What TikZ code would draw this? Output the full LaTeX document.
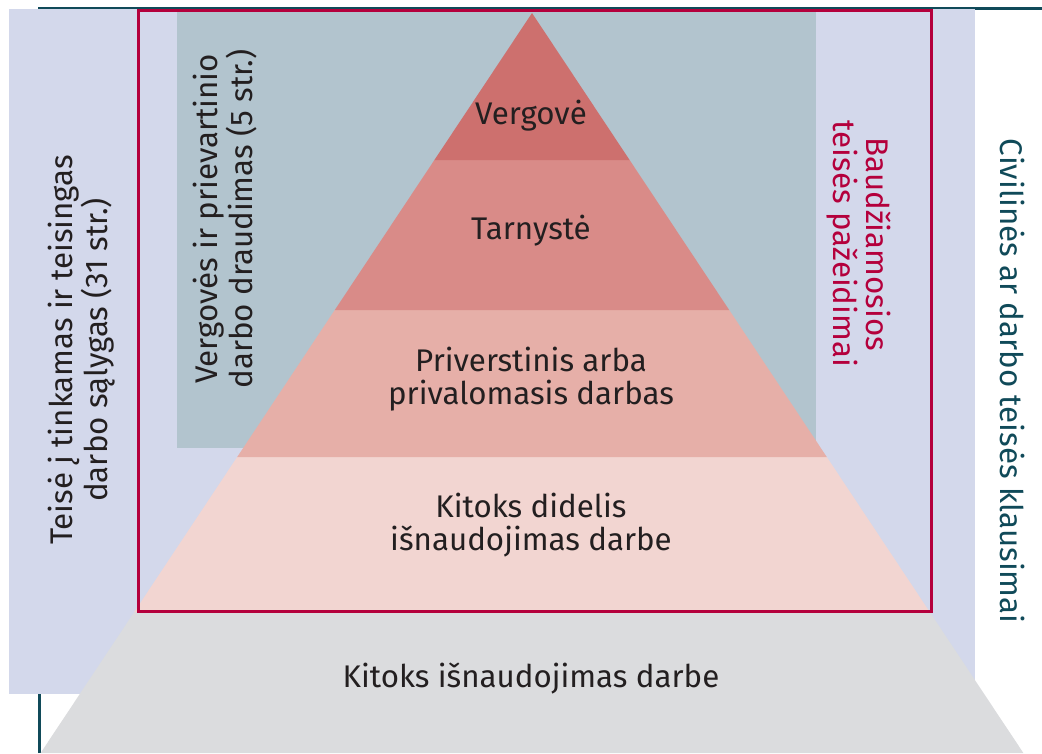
\documentclass[tikz,border=0pt]{standalone}
\usepackage{fontspec}
\setmainfont{Fira Sans}
\definecolor{lav}{HTML}{D3D8EB}
\definecolor{slate}{HTML}{B2C4CE}
\definecolor{tealc}{HTML}{104A59}
\definecolor{crim}{HTML}{B4003C}
\definecolor{lvA}{HTML}{CD706E}
\definecolor{lvB}{HTML}{D98B88}
\definecolor{lvC}{HTML}{E6AFA8}
\definecolor{lvD}{HTML}{F2D5D1}
\definecolor{greyb}{HTML}{DBDCDE}
\definecolor{ink}{HTML}{231F20}
\tikzset{
  txt/.style={font=\fontsize{31.3}{33}\selectfont, text=ink, align=center, inner sep=0pt, anchor=base},
}
\begin{document}
\begin{tikzpicture}[x=1pt,y=-1pt]
\useasboundingbox (0,0) rectangle (1042,753);
% page frame lines
\draw[tealc, line width=3pt] (39,753) -- (39,8) -- (1042,8);
% lavender background
\fill[lav] (9,9) rectangle (975,694);
% slate box
\fill[slate] (177,12) rectangle (816,448);
% grey base trapezoid
\fill[greyb] (134.3,612) -- (929.7,612) -- (1023.4,753) -- (40.6,753) -- cycle;
% pyramid levels
\fill[lvD] (237.2,457) -- (826.8,457) -- (929.7,612) -- (134.3,612) -- cycle;
\fill[lvC] (334.8,310) -- (729.2,310) -- (826.8,457) -- (237.2,457) -- cycle;
\fill[lvB] (434.4,160) -- (629.6,160) -- (729.2,310) -- (334.8,310) -- cycle;
\fill[lvA] (532,13) -- (629.6,160) -- (434.4,160) -- cycle;
% red frame
\draw[crim, line width=3pt] (138.5,10.5) rectangle (931.5,611.5);
% texts (anchor base = baseline of the last line)
\node[txt] (vergove) at (531,124) {Vergovė};
\node[txt] (tarnyste) at (531,239) {Tarnystė};
\node[txt] (priv) at (531,404) {Priverstinis arba\\privalomasis darbas};
\node[txt] (kitdid) at (531,550) {Kitoks didelis\\išnaudojimas darbe};
\node[txt] (kitisn) at (531,687) {Kitoks išnaudojimas darbe};
\node[txt, rotate=90] (teise) at (107,350) {Teisė į tinkamas ir teisingas\\darbo sąlygas (31 str.)};
\node[txt, rotate=90] (draud) at (252,219) {Vergovės ir prievartinio\\darbo draudimas (5 str.)};
\node[txt, rotate=-90, text=crim] (baud) at (833,244) {Baudžiamosios\\teisės pažeidimai};
\node[txt, rotate=-90, text=tealc] (civ) at (1000,381) {Civilinės ar darbo teisės klausimai};
\end{tikzpicture}
\end{document}
